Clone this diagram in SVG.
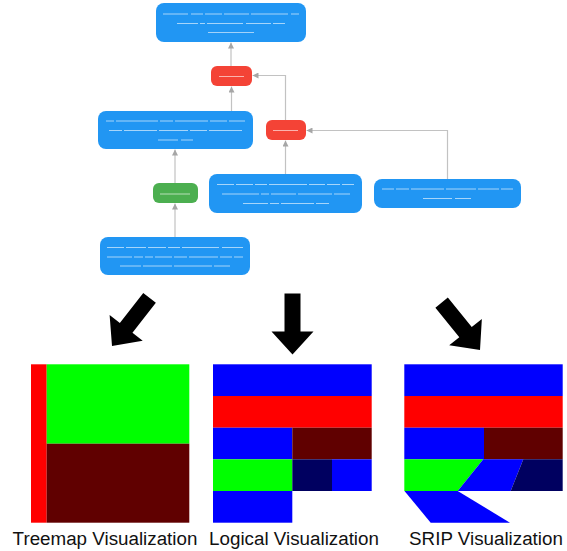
<svg xmlns="http://www.w3.org/2000/svg" width="567" height="551" viewBox="0 0 567 551">
  <defs>
    <marker id="tip" viewBox="0 0 10 10" refX="10" refY="5" markerWidth="6" markerHeight="6" orient="auto" markerUnits="userSpaceOnUse">
      <path d="M0,0 L10,5 L0,10 Z" fill="#a6a6a6"/>
    </marker>
    <!-- thick black arrow, pointing down, tip at origin -->
    <path id="bigArrow" d="M-8,-61 L8,-61 L8,-23 L21,-23 L0,0 L-21,-23 L-8,-23 Z" fill="#000"/>
  </defs>
  <style>
    .blue { fill: #2196F3; }
    .red { fill: #F44336; }
    .green { fill: #4CAF50; }
    .ln { stroke: #ffffff; stroke-opacity: 0.6; stroke-width: 1; fill: none; }
    .lnb { stroke: #cfe6fb; stroke-opacity: 0.75; stroke-width: 1; fill: none; }
    .edge { stroke: #c2c2c2; stroke-width: 1.2; fill: none; marker-end: url(#tip); }
    .cap { font-family: "Liberation Sans", Arial, sans-serif; font-size: 18.8px; fill: #111; text-anchor: middle; }
  </style>

  <rect width="567" height="551" fill="#fff"/>

  <!-- connectors -->
  <g id="connectors">
    <path class="edge" d="M231,66 L231,42.5"/>
    <path class="edge" d="M231.5,111 L231.5,86.5"/>
    <path class="edge" d="M285.5,120 L285.5,75.5 L252.5,75.5"/>
    <path class="edge" d="M447.5,179 L447.5,130.5 L306.5,130.5"/>
    <path class="edge" d="M285.5,174 L285.5,140.5"/>
    <path class="edge" d="M175,183 L175,149.5"/>
    <path class="edge" d="M175,237 L175,203.5"/>
  </g>

  <!-- nodes -->
  <g id="n-top">
    <rect class="blue" x="156" y="3" width="150" height="39" rx="8"/>
    <path class="ln" d="M163,14H188M191,14H203M205,14H222M224,14H249M251,14H288M291,14H299"/>
    <path class="ln" d="M177,23.5H198M200,23.5H205M207,23.5H243M246,23.5H271M273,23.5H285"/>
    <path class="lnb" d="M208,32.5H254"/>
  </g>

  <g id="n-red-a">
    <rect class="red" x="211" y="66" width="41" height="20" rx="6"/>
    <path class="ln" d="M219,76.5H244"/>
  </g>

  <g id="n-mid-left">
    <rect class="blue" x="98" y="111" width="155" height="38" rx="8"/>
    <path class="ln" d="M106,121H114M116,121H158M160,121H173M175,121H208M210,121H227M229,121H245"/>
    <path class="ln" d="M109,130.5H122M124,130.5H157M159,130.5H188M190,130.5H207M209,130.5H242"/>
    <path class="ln" d="M158,140H178M181,140H193"/>
  </g>

  <g id="n-red-b">
    <rect class="red" x="266" y="120" width="40" height="20" rx="6"/>
    <path class="ln" d="M273,130.5H298"/>
  </g>

  <g id="n-green">
    <rect class="green" x="153" y="183" width="45" height="20" rx="6"/>
    <path class="ln" d="M160,194H190"/>
  </g>

  <g id="n-mid">
    <rect class="blue" x="209" y="174" width="153" height="39" rx="8"/>
    <path class="ln" d="M217,184.5H234M236,184.5H253M255,184.5H267M269,184.5H307M309,184.5H325M327,184.5H340M342,184.5H354"/>
    <path class="ln" d="M222,194H259M261,194H269M271,194H296M298,194H332M334,194H350"/>
    <path class="ln" d="M243,203.5H268M270,203.5H279M281,203.5H314M316,203.5H329"/>
  </g>

  <g id="n-right">
    <rect class="blue" x="374" y="179" width="147" height="29" rx="8"/>
    <path class="ln" d="M382,189H394M396,189H409M411,189H444M446,189H476M478,189H499M501,189H513"/>
    <path class="ln" d="M423,198.5H452M455,198.5H471"/>
  </g>

  <g id="n-bottom">
    <rect class="blue" x="100" y="237" width="150" height="38" rx="8"/>
    <path class="ln" d="M107,247.5H124M126,247.5H146M148,247.5H166M168,247.5H180M182,247.5H219M222,247.5H243"/>
    <path class="ln" d="M107,257H132M134,257H143M145,257H153M155,257H172M174,257H187M189,257H218M220,257H232M234,257H243"/>
    <path class="ln" d="M120,266H141M143,266H172M174,266H212M214,266H230"/>
  </g>

  <!-- big arrows -->
  <g id="arrows">
    <use href="#bigArrow" transform="translate(112,346) rotate(38)"/>
    <use href="#bigArrow" transform="translate(292.5,354.5)"/>
    <use href="#bigArrow" transform="translate(480,350) rotate(-39)"/>
  </g>

  <!-- treemap -->
  <g id="treemap">
    <rect x="31" y="364.3" width="15.7" height="158.4" fill="#ff0000"/>
    <rect x="46.7" y="364.3" width="142.6" height="79.4" fill="#00ff00"/>
    <rect x="46.7" y="443.7" width="142.6" height="79" fill="#600000"/>
    <text class="cap" x="105" y="545">Treemap Visualization</text>
  </g>

  <!-- logical layout -->
  <g id="logical">
    <rect x="213" y="364.3" width="158.7" height="31.7" fill="#0000ff"/>
    <rect x="213" y="396" width="158.7" height="31.7" fill="#ff0000"/>
    <rect x="213" y="427.7" width="79.3" height="31.6" fill="#0000ff"/>
    <rect x="292.3" y="427.7" width="79.4" height="31.6" fill="#600000"/>
    <rect x="213" y="459.3" width="79.3" height="31.7" fill="#00ff00"/>
    <rect x="292.3" y="459.3" width="39.7" height="31.7" fill="#000060"/>
    <rect x="332" y="459.3" width="39.7" height="31.7" fill="#0000ff"/>
    <rect x="213" y="491" width="79.3" height="31.7" fill="#0000ff"/>
    <text class="cap" x="294" y="545">Logical Visualization</text>
  </g>

  <!-- SRIP layout -->
  <g id="srip">
    <rect x="404.3" y="364.3" width="158.4" height="31.7" fill="#0000ff"/>
    <rect x="404.3" y="396" width="158.4" height="31.7" fill="#ff0000"/>
    <rect x="404.3" y="427.7" width="79.7" height="31.6" fill="#0000ff"/>
    <rect x="484" y="427.7" width="78.7" height="31.6" fill="#600000"/>
    <polygon points="404.3,459.3 483.3,459.3 457.7,491 404.3,491" fill="#00ff00"/>
    <polygon points="483.3,459.3 523.3,459.3 510.7,491 457.7,491" fill="#0000ff"/>
    <polygon points="523.3,459.3 562.7,459.3 562.7,491 510.7,491" fill="#000060"/>
    <polygon points="404.5,491 457.7,491 510,522.7 430.7,522.7" fill="#0000ff"/>
    <text class="cap" x="486" y="545">SRIP Visualization</text>
  </g>
</svg>
